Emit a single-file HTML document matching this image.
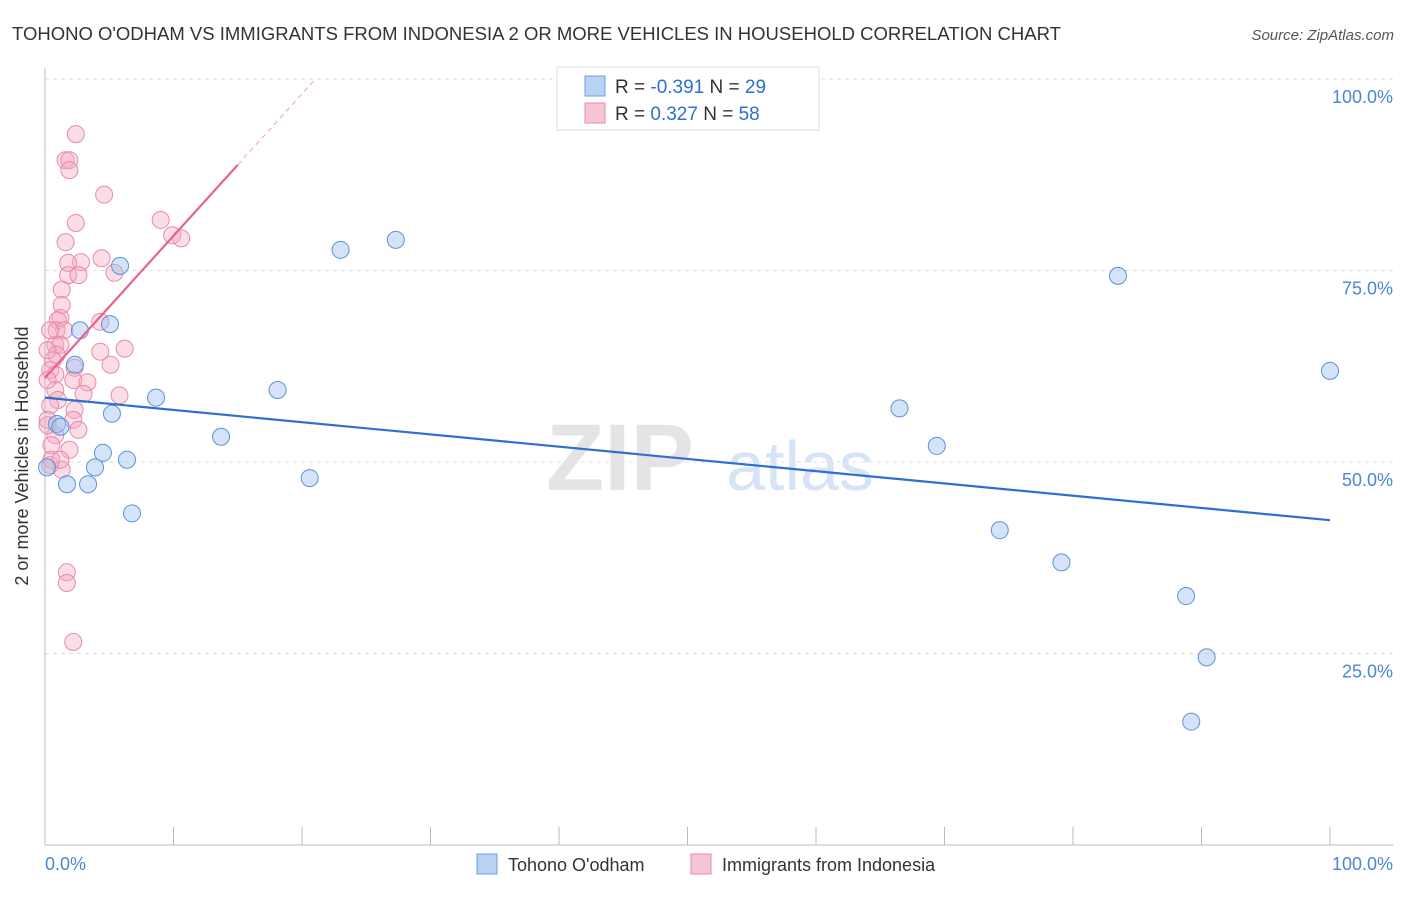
<!DOCTYPE html>
<html><head><meta charset="utf-8"><style>
body{margin:0;background:#fff;font-family:"Liberation Sans",sans-serif}
svg text{font-family:"Liberation Sans",sans-serif}
</style></head><body>
<svg width="1406" height="892" id="chart">
<text x="12" y="40" font-size="18.5" fill="#333">TOHONO O'ODHAM VS IMMIGRANTS FROM INDONESIA 2 OR MORE VEHICLES IN HOUSEHOLD CORRELATION CHART</text>
<text x="1394" y="40" font-size="15" fill="#555" text-anchor="end" font-style="italic">Source: ZipAtlas.com</text>
<g id="grid"></g>
<text x="620" y="490" font-size="95" fill="#e4e4e4" font-family="Liberation Serif" text-anchor="middle" font-weight="bold">ZIP</text>
<text x="800" y="490" font-size="70" fill="#d6e4f5" text-anchor="middle">atlas</text>
<line x1="45" y1="68" x2="45" y2="845" stroke="#bbb"/>
<line x1="45" y1="845" x2="1393" y2="845" stroke="#bbb"/>
<g id="ticks"></g>
<g id="pts"></g>
<g id="lines"></g>
<text x="28" y="456" font-size="18" fill="#333" text-anchor="middle" transform="rotate(-90 28 456)">2 or more Vehicles in Household</text>
<text x="45" y="870" font-size="18" fill="#4a86d4">0.0%</text>
<text x="1393" y="870" font-size="18" fill="#4a86d4" text-anchor="end">100.0%</text>
<g>
<rect x="557" y="67" width="262" height="63" fill="#fff" stroke="#ddd"/>
<rect x="585" y="76" width="20" height="20" fill="#b8d2f3" stroke="#6a9fe0"/>
<rect x="585" y="103" width="20" height="20" fill="#f8c5d5" stroke="#e88aa8"/>
<text x="615" y="93" font-size="19" fill="#333">R = <tspan fill="#2e6fd0">-0.391</tspan>   N = <tspan fill="#2e6fd0">29</tspan></text>
<text x="615" y="120" font-size="19" fill="#333">R =  <tspan fill="#2e6fd0">0.327</tspan>   N = <tspan fill="#2e6fd0">58</tspan></text>
</g>
<g>
<rect x="477" y="854" width="20" height="20" fill="#b8d2f3" stroke="#6a9fe0"/>
<text x="508" y="871" font-size="18" fill="#333">Tohono O'odham</text></g>
<g>
<rect x="691" y="854" width="20" height="20" fill="#f8c5d5" stroke="#e88aa8"/>
<text x="722" y="871" font-size="18" fill="#333">Immigrants from Indonesia</text></g>
</svg>
<script>
const yTicks=[25,50,75,100];
const yTickLabels=["25.0%","50.0%","75.0%","100.0%"];
const blueX=[0.16,0.93,1.71,2.33,2.72,3.35,3.89,4.51,5.06,5.21,5.84,6.38,6.77,8.64,13.7,18.1,20.6,23.0,27.3,66.5,69.4,74.3,79.1,83.5,88.8,90.4,89.2,100,1.2];
const blueY=[49.3,54.96,47.1,62.7,67.2,47.1,49.3,51.2,68.0,56.3,75.6,50.3,43.3,58.4,53.3,59.4,47.9,77.7,79.0,57.0,52.1,41.1,36.9,74.3,32.5,24.5,16.1,61.9,54.6];
const pinkX=[2.4,1.6,1.9,1.9,4.6,2.4,9.0,9.9,10.6,1.6,4.4,5.4,2.8,1.8,1.8,2.6,1.3,1.3,1.2,1.0,0.9,1.5,4.3,0.8,1.2,0.9,4.3,6.2,5.1,0.6,0.4,0.8,2.3,2.2,3.3,5.8,3.0,0.8,1.0,2.3,0.4,2.2,2.6,0.8,0.5,1.9,0.4,1.3,1.7,1.7,2.2,0.2,0.5,1.2,0.2,0.2,0.4,0.2];
const pinkY=[92.8,89.4,89.4,88.1,84.9,81.2,81.6,79.6,79.2,78.7,76.6,74.7,76.1,76.0,74.4,74.4,72.5,70.5,68.8,68.5,67.2,67.2,68.3,65.3,65.3,64.0,64.4,64.8,62.7,63.3,62.0,61.4,62.3,60.7,60.4,58.7,58.9,59.4,58.1,56.8,57.4,55.5,54.2,53.5,52.2,51.6,49.6,49.0,35.6,34.2,26.5,55.5,50.3,50.3,64.6,60.7,67.2,54.8];
const blueFit=[58.4,-0.16];
const pinkFit=[61.0,1.853];
const X=v=>45+v*12.85, Y=v=>845-v*7.66;
const NS="http://www.w3.org/2000/svg";
function mk(tag,attrs,parent){const e=document.createElementNS(NS,tag);for(const k in attrs)e.setAttribute(k,attrs[k]);parent.appendChild(e);return e;}
const grid=document.getElementById('grid');
yTicks.forEach((t,i)=>{
 const l=mk('line',{x1:45,x2:1393,y1:Y(t),y2:Y(t),stroke:'#ddd','stroke-dasharray':'4 4'},grid);
 
 
 const tx=mk('text',{x:1393,y:Y(t)+24,'font-size':18,fill:'#4a86d4','text-anchor':'end'},grid);
 tx.textContent=yTickLabels[i];
 
 
});
const ticks=document.getElementById('ticks');
for(let i=0;i<=10;i++){
 const l=mk('line',{x1:X(i*10),x2:X(i*10),y1:827,y2:845,stroke:'#bbb'},ticks);
 
 
}
const pts=document.getElementById('pts');
pinkX.forEach((x,i)=>{
 const c=mk('circle',{cx:X(x),cy:Y(pinkY[i]),r:8.5,fill:'rgba(245,170,195,0.4)',stroke:'#e88aa8','stroke-width':1},pts);
 
 
});
blueX.forEach((x,i)=>{
 const c=mk('circle',{cx:X(x),cy:Y(blueY[i]),r:8.5,fill:'rgba(160,195,240,0.45)',stroke:'#5b93d8','stroke-width':1},pts);
 
 
});
const lines=document.getElementById('lines');
const bl=mk('line',{x1:X(0),y1:Y(blueFit[0]),x2:X(100),y2:Y(blueFit[0]+blueFit[1]*100),stroke:'#2e6fd0','stroke-width':2.2},lines);


const pl=mk('line',{x1:X(0),y1:Y(pinkFit[0]),x2:X(15),y2:Y(pinkFit[0]+pinkFit[1]*15),stroke:'#e8648e','stroke-width':2.2},lines);


const pd=mk('line',{x1:X(15),y1:Y(pinkFit[0]+pinkFit[1]*15),x2:X(21),y2:Y(pinkFit[0]+pinkFit[1]*21),stroke:'#f0a0b8','stroke-width':1,'stroke-dasharray':'5 4'},lines);


</script>
</body></html>
